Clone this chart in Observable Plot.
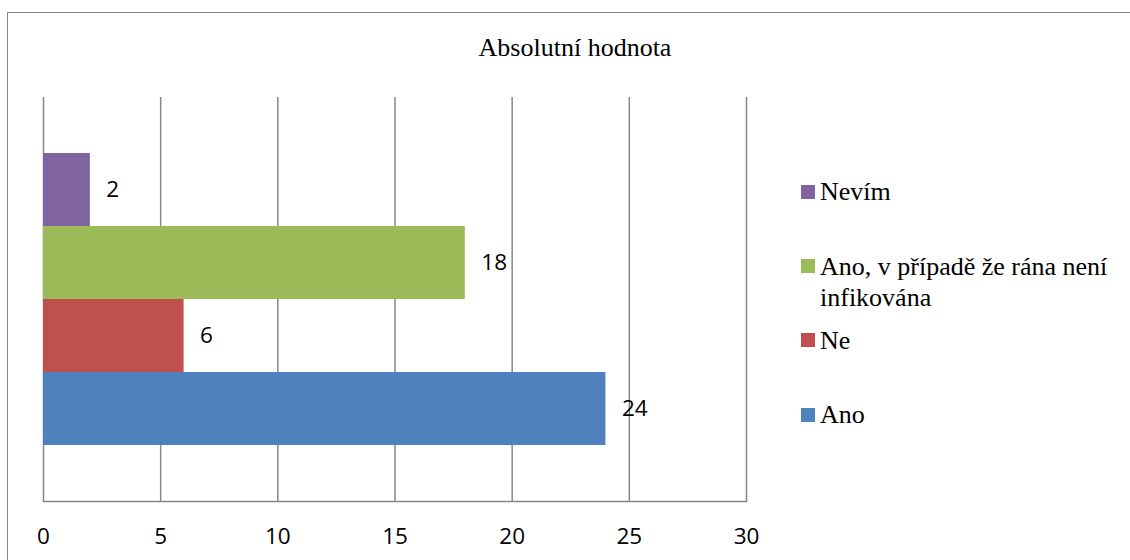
<!DOCTYPE html>
<html>
<head>
<meta charset="utf-8">
<script src="https://cdn.jsdelivr.net/npm/d3@7"></script>
<script src="https://cdn.jsdelivr.net/npm/@observablehq/plot@0.6"></script>
<style>
  html, body { margin: 0; padding: 0; background: #fff; overflow: hidden; }
  #chart { position: relative; width: 1130px; height: 560px; overflow: hidden; }
  #frame { position: absolute; left: 7px; top: 12px; width: 1200px; height: 700px;
           border: 1.5px solid #888; box-sizing: border-box; }
  .serif { font-family: "Liberation Serif", "Times New Roman", serif; }
  #title { position: absolute; left: 0; width: 1150px; top: 32px; text-align: center;
           font-size: 26px; line-height: 31px; color: #000; }
  #plot { position: absolute; left: 0; top: 0; }
  .legend-item { position: absolute; left: 801px; font-size: 26px; line-height: 31px; color: #000; }
  .legend-item .swatch { position: absolute; left: 0; top: 8.6px; width: 14px; height: 14px; }
  .legend-item .label { position: absolute; left: 19px; top: 0; width: 305px; }
</style>
</head>
<body>
<div id="chart">
  <div id="frame"></div>
  <div id="title" class="serif">Absolutní hodnota</div>
  <div id="plot"></div>
  <div id="legend" class="serif"></div>
</div>
<script>
// Survey answers (absolute counts), bottom-to-top as stacked in the chart
const categories = ["Ano", "Ne", "Ano, v případě že rána není infikována", "Nevím"];
const values = [24, 6, 18, 2];
const colors = ["#4F81BD", "#C0504D", "#9BBB59", "#8064A2"];
const xTicks = [0, 5, 10, 15, 20, 25, 30];

const data = categories.map((c, i) => ({category: c, value: values[i]}));
const topToBottom = categories.slice().reverse();

const chart = Plot.plot({
  width: 1130,
  height: 560,
  marginLeft: 43,
  marginRight: 384,
  marginTop: 97,
  marginBottom: 59,
  style: {fontFamily: "'Open Sans', sans-serif", fontSize: "22px", color: "#000", background: "transparent"},
  x: {domain: [0, 30]},
  y: {domain: topToBottom, paddingInner: 0, paddingOuter: 0.74, axis: null},
  color: {domain: categories, range: colors},
  marks: [
    Plot.ruleX(xTicks, {stroke: "#878787", strokeWidth: 1.5}),
    Plot.frame({anchor: "bottom", stroke: "#878787", strokeWidth: 1.5}),
    Plot.barX(data, {x: "value", y: "category", fill: "category"}),
    Plot.text(data, {x: "value", y: "category", text: d => String(d.value),
                     textAnchor: "start", dx: 16, fill: "#000", fontSize: 22.5}),
    Plot.axisX({ticks: xTicks, tickSize: 0, tickPadding: 27, label: null, fontSize: 22.5, fill: "#000"})
  ]
});
document.getElementById("plot").appendChild(chart);

// Legend on the right, listed top-to-bottom like the bars
const legend = document.getElementById("legend");
topToBottom.forEach((c, i) => {
  const item = document.createElement("div");
  item.className = "legend-item";
  item.style.top = (176.4 + i * 74.2) + "px";
  const sw = document.createElement("div");
  sw.className = "swatch";
  sw.style.background = colors[categories.indexOf(c)];
  const lab = document.createElement("div");
  lab.className = "label";
  lab.textContent = c;
  item.appendChild(sw);
  item.appendChild(lab);
  legend.appendChild(item);
});
</script>
</body>
</html>
